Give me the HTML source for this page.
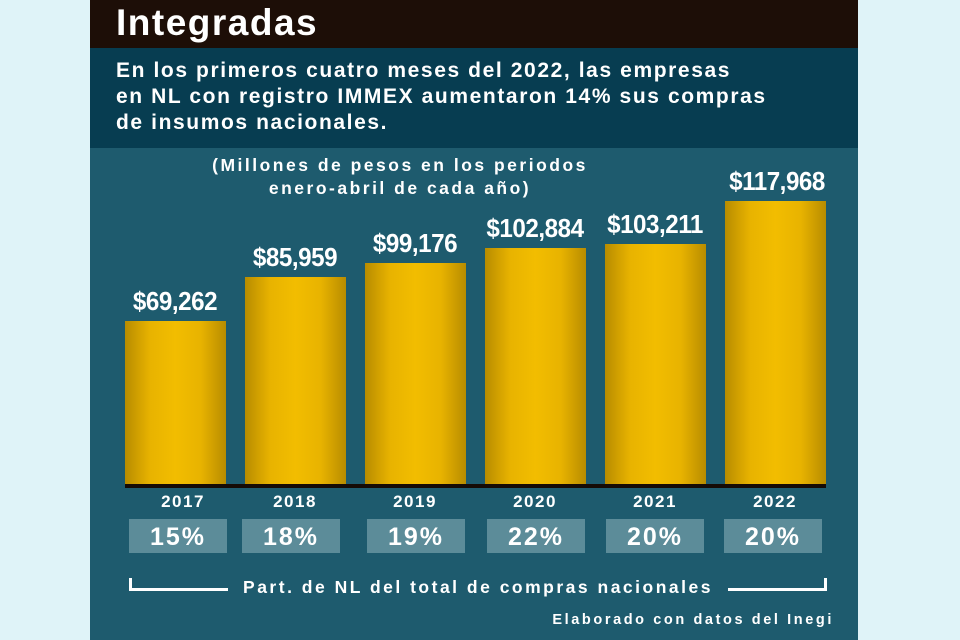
<!DOCTYPE html>
<html><head><meta charset="utf-8"><style>
body{margin:0;width:960px;height:640px;background:#dff3f8;position:relative;overflow:hidden;font-family:"Liberation Sans","DejaVu Sans",sans-serif}
.a{position:absolute}
.bar{position:absolute;background:linear-gradient(90deg,#b88c00,#e8b300 25%,#f2bd00 50%,#e8b300 75%,#b88c00)}
.v{position:absolute;width:140px;text-align:center;color:#fff;font-weight:bold;font-size:26px;font-family:"Liberation Sans Narrow","Liberation Sans",sans-serif;letter-spacing:-0.5px;transform:scaleX(0.93)}
.y{position:absolute;width:100px;text-align:center;color:#fff;font-size:17px;font-weight:bold;letter-spacing:1.5px}
.p{position:absolute;height:34px;background:#5c8c99;color:#fff;font-weight:bold;font-size:25px;text-align:center;line-height:37px;letter-spacing:2px}
</style></head><body>
<div class="a" style="left:90px;top:0;width:768px;height:48px;background:#1d0e07"></div>
<div class="a" style="left:116px;top:2px;color:#fff;font-weight:bold;font-size:37px;letter-spacing:1.5px">Integradas</div>
<div class="a" style="left:90px;top:48px;width:768px;height:100px;background:#073d51"></div>
<div class="a" style="left:116px;top:58px;color:#fff;font-weight:bold;font-size:21px;line-height:26px;letter-spacing:1.6px">En los primeros cuatro meses del 2022, las empresas<br>en NL con registro IMMEX aumentaron 14% sus compras<br>de insumos nacionales.</div>
<div class="a" style="left:90px;top:148px;width:768px;height:492px;background:#1e5b6e"></div>
<div class="a" style="left:180px;top:154px;width:440px;text-align:center;color:#fff;font-weight:bold;font-size:17.5px;line-height:23px;letter-spacing:2.5px">(Millones de pesos en los periodos<br>enero-abril de cada año)</div>
<div class="bar" style="left:125px;top:321px;width:101px;height:165px"></div>
<div class="bar" style="left:245px;top:277px;width:101px;height:209px"></div>
<div class="bar" style="left:365px;top:263px;width:101px;height:223px"></div>
<div class="bar" style="left:485px;top:248px;width:101px;height:238px"></div>
<div class="bar" style="left:605px;top:244px;width:101px;height:242px"></div>
<div class="bar" style="left:725px;top:201px;width:101px;height:285px"></div>
<div class="a" style="left:125px;top:484px;width:701px;height:4px;background:#150b06"></div>
<div class="v" style="left:105px;top:286px">$69,262</div>
<div class="v" style="left:225px;top:242px">$85,959</div>
<div class="v" style="left:345px;top:228px">$99,176</div>
<div class="v" style="left:465px;top:213px">$102,884</div>
<div class="v" style="left:585px;top:209px">$103,211</div>
<div class="v" style="left:707px;top:166px">$117,968</div>
<div class="y" style="left:133px;top:492px">2017</div>
<div class="y" style="left:245px;top:492px">2018</div>
<div class="y" style="left:365px;top:492px">2019</div>
<div class="y" style="left:485px;top:492px">2020</div>
<div class="y" style="left:605px;top:492px">2021</div>
<div class="y" style="left:725px;top:492px">2022</div>
<div class="p" style="left:129px;top:519px;width:98px">15%</div>
<div class="p" style="left:242px;top:519px;width:98px">18%</div>
<div class="p" style="left:367px;top:519px;width:98px">19%</div>
<div class="p" style="left:487px;top:519px;width:98px">22%</div>
<div class="p" style="left:606px;top:519px;width:98px">20%</div>
<div class="p" style="left:724px;top:519px;width:98px">20%</div>
<div class="a" style="left:129px;top:578px;width:96px;height:10px;border-left:3px solid #fff;border-bottom:3px solid #fff"></div>
<div class="a" style="left:728px;top:578px;width:96px;height:10px;border-right:3px solid #fff;border-bottom:3px solid #fff"></div>
<div class="a" style="left:228px;top:577px;width:500px;text-align:center;color:#fff;font-weight:bold;font-size:17.5px;letter-spacing:2.5px">Part. de NL del total de compras nacionales</div>
<div class="a" style="left:450px;top:612px;width:384px;text-align:right;color:#fff;font-weight:bold;font-size:14.5px;letter-spacing:2.6px">Elaborado con datos del Inegi</div>
</body></html>
